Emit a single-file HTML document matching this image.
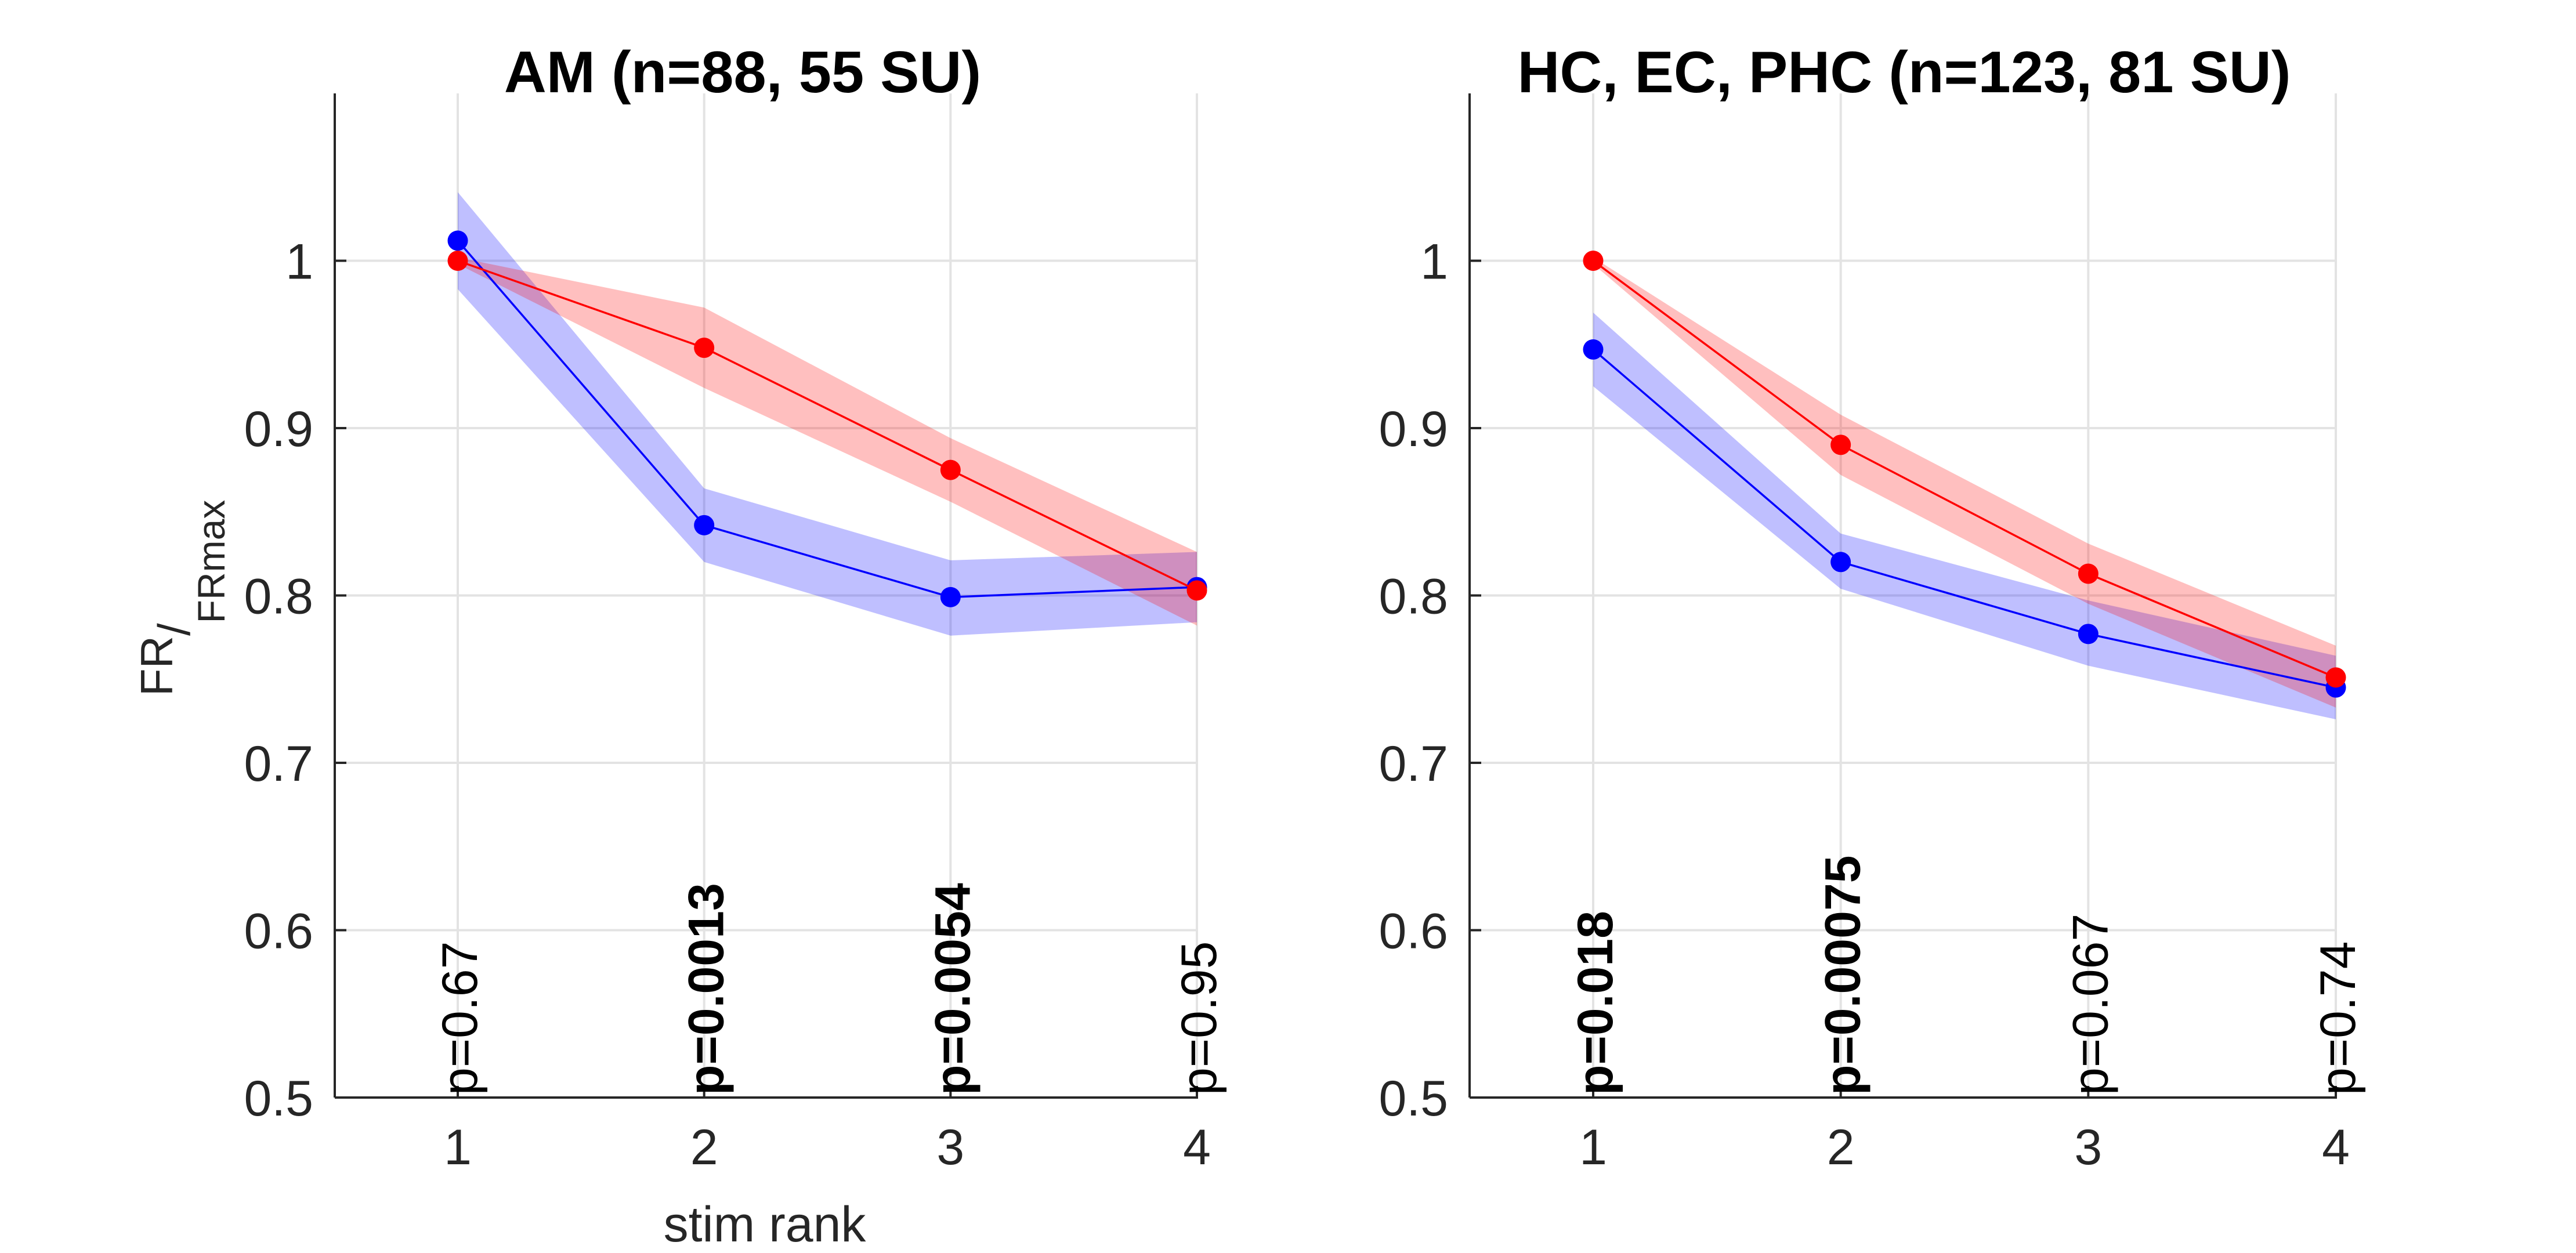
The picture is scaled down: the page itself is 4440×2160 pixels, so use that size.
<!DOCTYPE html>
<html><head><meta charset="utf-8"><style>
html,body{margin:0;padding:0;background:#fff;}
svg{display:block;font-family:"Liberation Sans",Arial,sans-serif;}
</style></head><body>
<svg id="fig" width="4440" height="2160" viewBox="0 0 4440 2160" xmlns="http://www.w3.org/2000/svg">
<rect width="4440" height="2160" fill="#fff"/>
<g id="root"></g>
</svg>
<script>
const categories=[1,2,3,4];
const yTicks=[0.5,0.6,0.7,0.8,0.9,1];
const yTickLabels=["0.5","0.6","0.7","0.8","0.9","1"];
const titles=["AM (n=88, 55 SU)","HC, EC, PHC (n=123, 81 SU)"];
const blueL=[1.012,0.842,0.799,0.805];
const blueLoL=[0.983,0.820,0.776,0.784];
const blueHiL=[1.041,0.864,0.821,0.826];
const redL=[1.0,0.948,0.875,0.803];
const redLoL=[0.998,0.924,0.856,0.782];
const redHiL=[1.002,0.972,0.894,0.826];
const pLabelsL=["p=0.67","p=0.0013","p=0.0054","p=0.95"];
const pBoldL=[false,true,true,false];
const blueR=[0.947,0.820,0.777,0.745];
const blueLoR=[0.925,0.804,0.758,0.726];
const blueHiR=[0.969,0.837,0.797,0.764];
const redR=[1.0,0.890,0.813,0.751];
const redLoR=[0.998,0.872,0.795,0.733];
const redHiR=[1.002,0.908,0.831,0.770];
const pLabelsR=["p=0.018","p=0.00075","p=0.067","p=0.74"];
const pBoldR=[true,true,false,false];

const NS="http://www.w3.org/2000/svg";
const root=document.getElementById('root');
function mk(tag,attrs,parent){const e=document.createElementNS(NS,tag);for(const k in attrs)e.setAttribute(k,attrs[k]);(parent||root).appendChild(e);return e;}

const panels=[
 {ax0:577,x1:789,x4:2063,axEnd:2065,blue:blueL,blo:blueLoL,bhi:blueHiL,red:redL,rlo:redLoL,rhi:redHiL,p:pLabelsL,pb:pBoldL,title:titles[0],tx:1280,name:'am'},
 {ax0:2533,x1:2746,x4:4026,axEnd:4028,blue:blueR,blo:blueLoR,bhi:blueHiR,red:redR,rlo:redLoR,rhi:redHiR,p:pLabelsR,pb:pBoldR,title:titles[1],tx:3282,name:'hc-ec-phc'}
];
const yTop=161,yBot=1892;
function ys(v){return yBot-(v-0.5)/0.6*(yBot-yTop);}

panels.forEach(P=>{
 const xs=v=>P.x1+(v-1)*(P.x4-P.x1)/3;
 const g=mk('g',{});
 
 
 yTicks.forEach(t=>{ if(t>0.5){const l=mk('line',{x1:P.ax0,x2:xs(4),y1:ys(t),y2:ys(t),stroke:'#e3e3e3','stroke-width':4},g);
  }});
 categories.forEach(c=>{const l=mk('line',{x1:xs(c),x2:xs(c),y1:yTop,y2:yBot,stroke:'#e3e3e3','stroke-width':4},g);
  });
 function band(lo,hi,col,nm){let d='M'+categories.map((c,i)=>xs(c)+','+ys(hi[i])).join(' L');
  d+=' L'+categories.slice().reverse().map((c,j)=>{const i=categories.length-1-j;return xs(c)+','+ys(lo[i]);}).join(' L')+'Z';
  const p=mk('path',{d:d,fill:col,'fill-opacity':0.25,stroke:'none'},g);
  }
 band(P.blo,P.bhi,'#0000ff','blue-ci-band');
 band(P.rlo,P.rhi,'#ff0000','red-ci-band');
 function series(vals,col,nm){const pl=mk('polyline',{points:categories.map((c,i)=>xs(c)+','+ys(vals[i])).join(' '),fill:'none',stroke:col,'stroke-width':3.5},g);
  
  categories.forEach((c,i)=>{const m=mk('circle',{cx:xs(c),cy:ys(vals[i]),r:17.5,fill:col},g);
   });}
 series(P.blue,'#0000ff','blue-series');
 series(P.red,'#ff0000','red-series');
 const ya=mk('line',{x1:P.ax0,x2:P.ax0,y1:yTop,y2:yBot,stroke:'#262626','stroke-width':4},g);
 
 const xa=mk('line',{x1:P.ax0,x2:P.axEnd,y1:yBot,y2:yBot,stroke:'#262626','stroke-width':4},g);
 
 yTicks.forEach((t,i)=>{mk('line',{x1:P.ax0,x2:P.ax0+20,y1:ys(t),y2:ys(t),stroke:'#262626','stroke-width':4},g);
  const tx=mk('text',{x:P.ax0-37,y:ys(t)+31,'text-anchor':'end','font-size':86,fill:'#262626'},g);tx.textContent=yTickLabels[i];
  });
 categories.forEach(c=>{mk('line',{x1:xs(c),x2:xs(c),y1:yBot,y2:yBot-20,stroke:'#262626','stroke-width':4},g);
  const tx=mk('text',{x:xs(c),y:2007,'text-anchor':'middle','font-size':86,fill:'#262626'},g);tx.textContent=c;
  });
 categories.forEach((c,i)=>{const tx=mk('text',{x:0,y:0,transform:'translate('+(xs(c)+33)+','+(yBot-4)+') rotate(-90)','font-size':86,'font-weight':P.pb[i]?'bold':'normal',fill:'#000'},g);
  tx.textContent=P.p[i];});
 const tt=mk('text',{x:P.tx,y:159,'text-anchor':'middle','font-size':101,'font-weight':'bold',fill:'#000'},g);
 tt.textContent=P.title;
});
const xl=mk('text',{x:1318,y:2140,'text-anchor':'middle','font-size':86,fill:'#262626'});
xl.textContent='stim rank';


const yl=mk('text',{x:0,y:0,transform:'translate(297,1200) rotate(-90)','font-size':78,fill:'#262626'});


const t1=mk('tspan',{},yl);t1.textContent='FR';
const t2=mk('tspan',{dy:30},yl);t2.textContent='/';
const t3=mk('tspan',{dy:60,'font-size':66},yl);t3.textContent='FRmax';
</script>
</body></html>
